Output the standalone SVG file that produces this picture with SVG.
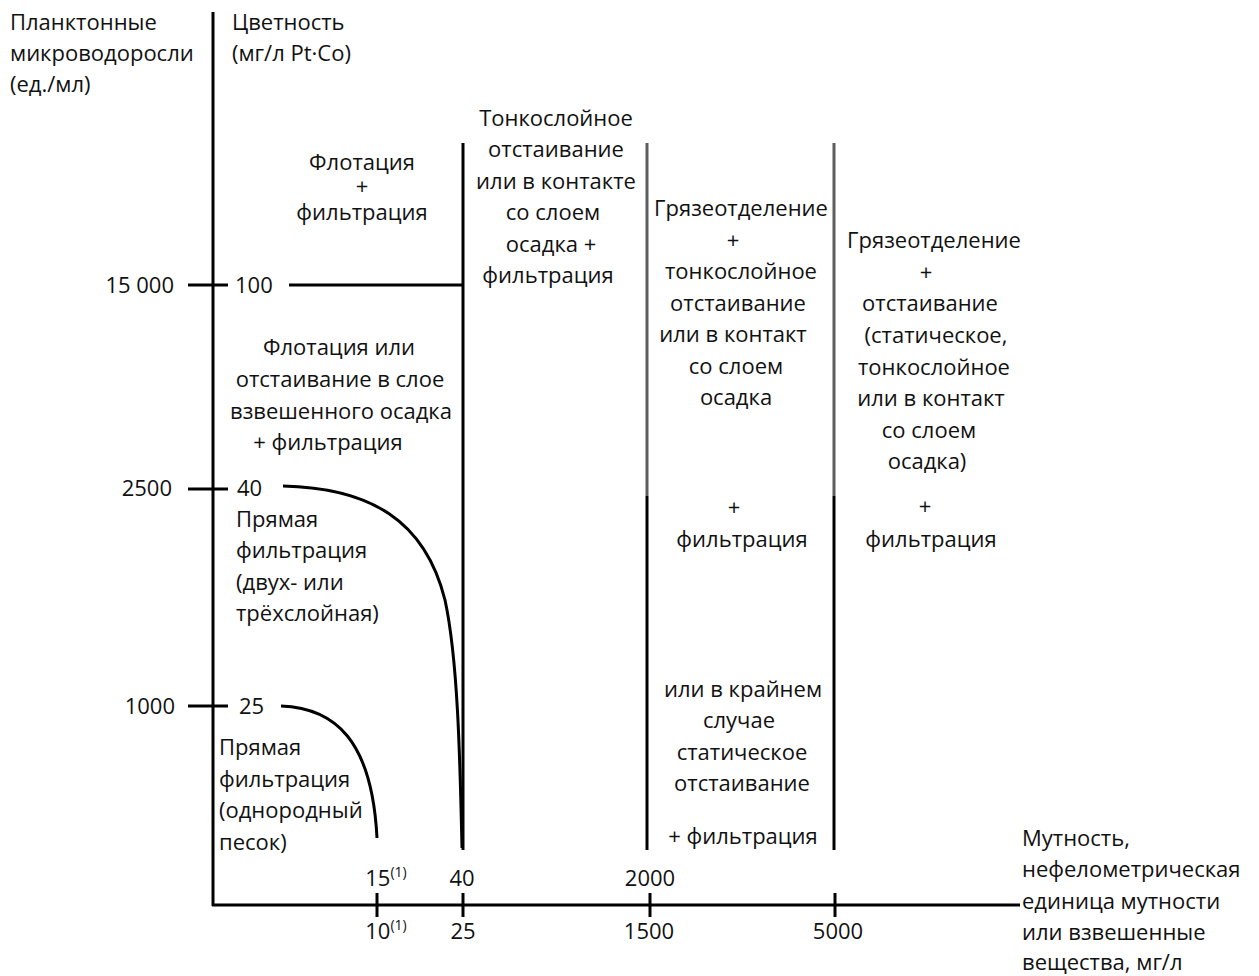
<svg xmlns="http://www.w3.org/2000/svg" width="1259" height="976" viewBox="0 0 1259 976">
<style>
text{font-family:"Open Sans","Liberation Sans",sans-serif;font-size:22px;fill:#111}
.m{text-anchor:middle}
.e{text-anchor:end}
.ln{stroke:#000;stroke-width:3;fill:none}
.g{stroke:#5e5e5e;stroke-width:3;fill:none}
.sup{font-size:14px}
</style>
<rect width="1259" height="976" fill="#fff"/>
<g id="connectors">
<line class="ln" x1="213" y1="12" x2="213" y2="906"/>
<line class="ln" x1="212" y1="905" x2="1020" y2="905"/>
<line class="ln" x1="188" y1="285" x2="228" y2="285"/>
<line class="ln" x1="188" y1="489" x2="228" y2="489"/>
<line class="ln" x1="188" y1="706" x2="228" y2="706"/>
<line class="ln" x1="289" y1="285" x2="464" y2="285"/>
<line class="ln" x1="463" y1="143" x2="463" y2="850"/>
<line class="g" x1="647" y1="143" x2="647" y2="496"/>
<line class="ln" x1="647" y1="496" x2="647" y2="850"/>
<line class="g" x1="834" y1="143" x2="834" y2="496"/>
<line class="ln" x1="834" y1="496" x2="834" y2="850"/>
<line class="ln" x1="377" y1="893" x2="377" y2="917"/>
<line class="ln" x1="463" y1="893" x2="463" y2="917"/>
<line class="ln" x1="650" y1="893" x2="650" y2="917"/>
<line class="ln" x1="835" y1="893" x2="835" y2="917"/>
<path class="ln" d="M283,486 C370,488 425,520 445,600 C458,660 460,760 462,848"/>
<path class="ln" d="M281,706 C335,708 372,740 377,838"/>
</g>
<g id="axis-y-label">
<text x="10" y="30">Планктонные</text>
<text x="10" y="61">микроводоросли</text>
<text x="10" y="92">(ед./мл)</text>
</g>
<g id="axis-color-label">
<text x="232" y="30">Цветность</text>
<text x="232" y="61">(мг/л Pt·Co)</text>
</g>
<g id="y-ticks">
<text class="e" x="174" y="293">15 000</text>
<text x="235" y="293">100</text>
<text class="e" x="172" y="496">2500</text>
<text x="237" y="496">40</text>
<text class="e" x="175" y="714">1000</text>
<text x="239" y="714">25</text>
</g>
<g id="x-ticks">
<text class="m" x="386" y="886">15<tspan class="sup" dy="-9">(1)</tspan></text>
<text class="m" x="462" y="886">40</text>
<text class="m" x="650" y="886">2000</text>
<text class="m" x="386" y="939">10<tspan class="sup" dy="-9">(1)</tspan></text>
<text class="m" x="463" y="939">25</text>
<text class="m" x="649" y="939">1500</text>
<text class="m" x="838" y="939">5000</text>
</g>
<g id="node-flotation">
<text class="m" x="362" y="170">Флотация</text>
<text class="m" x="362" y="194">+</text>
<text class="m" x="362" y="220">фильтрация</text>
</g>
<g id="node-thinlayer">
<text class="m" x="556" y="126">Тонкослойное</text>
<text class="m" x="556" y="157">отстаивание</text>
<text class="m" x="556" y="189">или в контакте</text>
<text class="m" x="553" y="220">со слоем</text>
<text class="m" x="551" y="252">осадка +</text>
<text class="m" x="548" y="283">фильтрация</text>
</g>
<g id="node-grit1">
<text class="m" x="741" y="216">Грязеотделение</text>
<text class="m" x="733" y="248">+</text>
<text class="m" x="741" y="279">тонкослойное</text>
<text class="m" x="738" y="311">отстаивание</text>
<text class="m" x="733" y="342">или в контакт</text>
<text class="m" x="736" y="374">со слоем</text>
<text class="m" x="736" y="405">осадка</text>
<text class="m" x="734" y="515">+</text>
<text class="m" x="742" y="547">фильтрация</text>
<text class="m" x="743" y="697">или в крайнем</text>
<text class="m" x="739" y="728">случае</text>
<text class="m" x="742" y="760">статическое</text>
<text class="m" x="742" y="791">отстаивание</text>
<text class="m" x="743" y="844">+ фильтрация</text>
</g>
<g id="node-grit2">
<text class="m" x="934" y="248">Грязеотделение</text>
<text class="m" x="926" y="280">+</text>
<text class="m" x="930" y="311">отстаивание</text>
<text class="m" x="936" y="343">(статическое,</text>
<text class="m" x="934" y="375">тонкослойное</text>
<text class="m" x="931" y="406">или в контакт</text>
<text class="m" x="929" y="438">со слоем</text>
<text class="m" x="927" y="469">осадка)</text>
<text class="m" x="925" y="514">+</text>
<text class="m" x="931" y="547">фильтрация</text>
</g>
<g id="node-flotation-settling">
<text class="m" x="339" y="355">Флотация или</text>
<text class="m" x="340" y="387">отстаивание в слое</text>
<text class="m" x="341" y="419">взвешенного осадка</text>
<text class="m" x="328" y="450">+ фильтрация</text>
</g>
<g id="node-direct-2">
<text x="236" y="527">Прямая</text>
<text x="236" y="558">фильтрация</text>
<text x="236" y="590">(двух- или</text>
<text x="236" y="621">трёхслойная)</text>
</g>
<g id="node-direct-1">
<text x="219" y="755">Прямая</text>
<text x="219" y="787">фильтрация</text>
<text x="219" y="818">(однородный</text>
<text x="219" y="850">песок)</text>
</g>
<g id="axis-x-label">
<text x="1022" y="846">Мутность,</text>
<text x="1022" y="877">нефелометрическая</text>
<text x="1022" y="909">единица мутности</text>
<text x="1022" y="940">или взвешенные</text>
<text x="1022" y="970">вещества, мг/л</text>
</g>
</svg>
